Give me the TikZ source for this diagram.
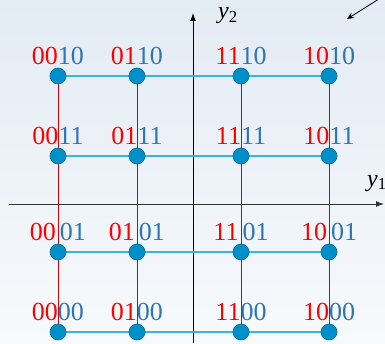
\documentclass[tikz,border=0pt]{standalone}
\usepackage{fontspec}
\setmainfont{Liberation Serif}
\usepackage{tikz}
\usetikzlibrary{positioning,arrows.meta,backgrounds}
\definecolor{bitred}{RGB}{255,0,0}
\definecolor{bitblue}{RGB}{46,117,182}
\definecolor{dotfill}{RGB}{0,144,201}
\definecolor{dotedge}{RGB}{0,105,155}
\definecolor{hlinecol}{RGB}{55,180,226}
\definecolor{vlinecol}{RGB}{210,0,0}
\definecolor{bgtop}{RGB}{227,235,244}
\definecolor{bgbot}{RGB}{247,250,252}
\newcommand{\bits}[2]{\textcolor{bitred}{#1}\textcolor{bitblue}{#2}}
\newcommand{\gapbits}[2]{\textcolor{bitred}{#1}\kern4pt\textcolor{bitblue}{#2}}

\begin{document}
\begin{tikzpicture}[
    x=1pt, y=1pt,
    dot/.style={circle, fill=dotfill, draw=dotedge, line width=0.6pt, minimum size=16pt, inner sep=0pt},
    bits/.style={inner sep=0pt, font=\fontsize{26}{26}\selectfont},
    hline/.style={draw=hlinecol, line width=1.4pt},
    vline/.style={draw=vlinecol, line width=0.7pt},
    axis/.style={-{Latex[length=8pt,width=6pt]}, line width=1pt},
    axlabel/.style={inner sep=0pt, anchor=base west, font=\fontsize{24}{24}\selectfont\itshape}
]
\useasboundingbox (-193,-139) rectangle (192,204);

% signal points
\node[dot] (d0010) at (-135,128) {};
\node[dot] (d0110) at (-56,128) {};
\node[dot] (d1110) at (48,128) {};
\node[dot] (d1010) at (136,128) {};
\node[dot] (d0011) at (-135,48) {};
\node[dot] (d0111) at (-56,48) {};
\node[dot] (d1111) at (48,48) {};
\node[dot] (d1011) at (136,48) {};
\node[dot] (d0001) at (-135,-48) {};
\node[dot] (d0101) at (-56,-48) {};
\node[dot] (d1101) at (48,-48) {};
\node[dot] (d1001) at (136,-48) {};
\node[dot] (d0000) at (-135,-128) {};
\node[dot] (d0100) at (-56,-128) {};
\node[dot] (d1100) at (48,-128) {};
\node[dot] (d1000) at (136,-128) {};

% bit labels
\node[bits, above=3pt of d0010] (l0010) {\bits{00}{10}};
\node[bits, above=3pt of d0110] (l0110) {\bits{01}{10}};
\node[bits, above=3pt of d1110] (l1110) {\bits{11}{10}};
\node[bits, above=3pt of d1010] (l1010) {\bits{10}{10}};
\node[bits, above=3pt of d0011] (l0011) {\bits{00}{11}};
\node[bits, above=3pt of d0111] (l0111) {\bits{01}{11}};
\node[bits, above=3pt of d1111] (l1111) {\bits{11}{11}};
\node[bits, above=3pt of d1011] (l1011) {\bits{10}{11}};
\node[bits, above=3pt of d0001] (l0001) {\gapbits{00}{01}};
\node[bits, above=3pt of d0101] (l0101) {\gapbits{01}{01}};
\node[bits, above=3pt of d1101] (l1101) {\gapbits{11}{01}};
\node[bits, above=3pt of d1001] (l1001) {\gapbits{10}{01}};
\node[bits, above=3pt of d0000] (l0000) {\bits{00}{00}};
\node[bits, above=3pt of d0100] (l0100) {\bits{01}{00}};
\node[bits, above=3pt of d1100] (l1100) {\bits{11}{00}};
\node[bits, above=3pt of d1000] (l1000) {\bits{10}{00}};

% axes
\coordinate (y1start) at (-184,0);
\coordinate (y1end) at (191,0);
\coordinate (y2start) at (0,-139);
\coordinate (y2end) at (0,191);
\node[axlabel] (y1lbl) at (174,18) {y\textsubscript{\upshape 1}};
\node[axlabel] (y2lbl) at (25,185) {y\textsubscript{\upshape 2}};

\coordinate (ptrtail) at (186,205);
\coordinate (ptrtip) at (154,185);
\draw[-{Stealth[length=7pt,width=6pt]}, line width=0.8pt] (ptrtail) -- (ptrtip);

\begin{scope}[on background layer]
\fill[top color=bgtop, bottom color=bgbot] (-193,-139) rectangle (192,204);
\draw[axis, draw=black!80] (y1start) -- (y1end);
\draw[axis] (y2start) -- (y2end);
\draw[vline] (d0010.center) -- (d0000.center);
\draw[vline] (d0110.center) -- (d0100.center);
\draw[vline] (d1110.center) -- (d1100.center);
\draw[vline] (d1010.center) -- (d1000.center);
\draw[hline] (d0010.center) -- (d1010.center);
\draw[hline] (d0011.center) -- (d1011.center);
\draw[hline] (d0001.center) -- (d1001.center);
\draw[hline] (d0000.center) -- (d1000.center);
\end{scope}
\end{tikzpicture}
\end{document}
